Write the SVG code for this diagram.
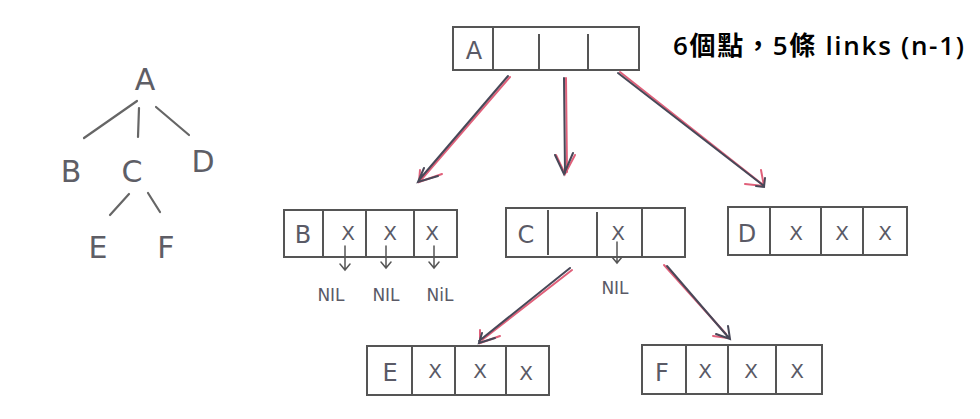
<svg xmlns="http://www.w3.org/2000/svg" width="980" height="419" viewBox="0 0 980 419">
<style>
.bx{fill:none;stroke:#555;stroke-width:2}
.dv{stroke:#555;stroke-width:2}
.hw{font-family:"DejaVu Sans","Liberation Sans",sans-serif;fill:#5a5a66;font-weight:normal}
.cl{font-size:24px;text-anchor:middle}
.xx{font-size:20px;text-anchor:middle}
.nil{font-size:17px;text-anchor:middle}
.tr{font-size:30px;text-anchor:middle;font-family:"DejaVu Sans","Liberation Sans",sans-serif;fill:#5e5e66;font-weight:normal}
.tl{stroke:#666;stroke-width:2.2;stroke-linecap:round}
.pk{stroke:#e0607a;stroke-width:2;fill:none;stroke-linecap:round}
.gr{stroke:#484858;stroke-width:2;fill:none;stroke-linecap:round}
.sm{stroke:#555;stroke-width:1.5;fill:none;stroke-linecap:round}
</style>
<rect width="980" height="419" fill="#fff"/>

<g id="tree">
<text class="tr" x="145" y="90">A</text>
<text class="tr" x="71" y="182">B</text>
<text class="tr" x="132" y="182">C</text>
<text class="tr" x="203" y="172">D</text>
<text class="tr" x="98" y="258">E</text>
<text class="tr" x="166" y="258">F</text>
<line class="tl" x1="137" y1="101" x2="84" y2="138"/>
<line class="tl" x1="139" y1="108" x2="138" y2="137"/>
<line class="tl" x1="156" y1="107" x2="189" y2="135"/>
<line class="tl" x1="129" y1="194" x2="110" y2="215"/>
<line class="tl" x1="148" y1="193" x2="160" y2="212"/>
</g>

<g id="nodeA">
<rect class="bx" x="453" y="27" width="186" height="43"/>
<line class="dv" x1="493" y1="27" x2="493" y2="70"/>
<line class="dv" x1="539" y1="34" x2="539" y2="70"/>
<line class="dv" x1="588" y1="34" x2="588" y2="70"/>
<text class="hw cl" x="474" y="59">A</text>
</g>

<text x="673" y="55" font-family="'Open Sans','Noto Sans CJK TC',sans-serif" font-size="26" font-weight="600" fill="#000" textLength="291" lengthAdjust="spacing">6個點，5條 links (n-1)</text>

<g id="nodeB">
<rect class="bx" x="284" y="210" width="173" height="47"/>
<line class="dv" x1="323" y1="210" x2="323" y2="257"/>
<line class="dv" x1="366" y1="210" x2="366" y2="257"/>
<line class="dv" x1="414" y1="210" x2="414" y2="257"/>
<text class="hw cl" x="303" y="243">B</text>
<text class="hw xx" x="348" y="240">X</text>
<text class="hw xx" x="390" y="240">X</text>
<text class="hw xx" x="432" y="240">X</text>
<path class="sm" d="M345 246V270M340 264L345 270L350 264"/>
<path class="sm" d="M386 246V268M381 262L386 268L391 262"/>
<path class="sm" d="M434 246V268M429 262L434 268L439 262"/>
<text class="hw nil" x="331" y="301">NIL</text>
<text class="hw nil" x="386" y="301">NIL</text>
<text class="hw nil" x="440" y="301">NiL</text>
</g>

<g id="nodeC">
<rect class="bx" x="506" y="208" width="179" height="49"/>
<line class="dv" x1="548" y1="210" x2="548" y2="255"/>
<line class="dv" x1="597" y1="212" x2="597" y2="257"/>
<line class="dv" x1="642" y1="208" x2="642" y2="257"/>
<text class="hw cl" x="526" y="243">C</text>
<text class="hw xx" x="618" y="240" fill="#4a5a8a">X</text>
<path class="sm" d="M617 242V262M612 257L617 263L622 257"/>
<text class="hw nil" x="615" y="294">NIL</text>
</g>

<g id="nodeD">
<rect class="bx" x="728" y="207" width="179" height="48"/>
<line class="dv" x1="770" y1="207" x2="770" y2="255"/>
<line class="dv" x1="821" y1="207" x2="821" y2="255"/>
<line class="dv" x1="863" y1="207" x2="863" y2="255"/>
<text class="hw cl" x="747" y="242">D</text>
<text class="hw xx" x="796" y="240">X</text>
<text class="hw xx" x="842" y="240">X</text>
<text class="hw xx" x="885" y="240">X</text>
</g>

<g id="nodeE">
<rect class="bx" x="367" y="346" width="182" height="49"/>
<line class="dv" x1="412" y1="346" x2="412" y2="395"/>
<line class="dv" x1="455" y1="346" x2="455" y2="395"/>
<line class="dv" x1="506" y1="346" x2="506" y2="395"/>
<text class="hw cl" x="390" y="381">E</text>
<text class="hw xx" x="435" y="378">X</text>
<text class="hw xx" x="480" y="378">X</text>
<text class="hw xx" x="526" y="380">X</text>
</g>

<g id="nodeF">
<rect class="bx" x="642" y="345" width="180" height="49"/>
<line class="dv" x1="686" y1="345" x2="686" y2="394"/>
<line class="dv" x1="728" y1="345" x2="728" y2="394"/>
<line class="dv" x1="776" y1="345" x2="776" y2="394"/>
<text class="hw cl" x="662" y="381">F</text>
<text class="hw xx" x="705" y="378">X</text>
<text class="hw xx" x="751" y="378">X</text>
<text class="hw xx" x="797" y="378">X</text>
</g>

<g id="connectors">
<path class="pk" d="M510 77L421 180M420 170L419 182L442 174"/>
<path class="gr" d="M508 76L419 180M424 168L418 182L438 176"/>
<path class="pk" d="M566 78L567 172M556 155L565 174L575 155"/>
<path class="gr" d="M564 78L565 173M555 155L564 174L573 153"/>
<path class="pk" d="M620 72L762 184M761 170L764 186L745 184"/>
<path class="gr" d="M618 73L764 186M765 178L764 187L756 186"/>
<path class="pk" d="M572 270L482 340M480 330L480 343L500 336"/>
<path class="gr" d="M570 268L479 341M482 333L479 343L495 338"/>
<path class="pk" d="M664 265L726 334M713 336L728 338"/>
<path class="gr" d="M667 266L729 338M716 334L730 339L728 326"/>
</g>
</svg>
